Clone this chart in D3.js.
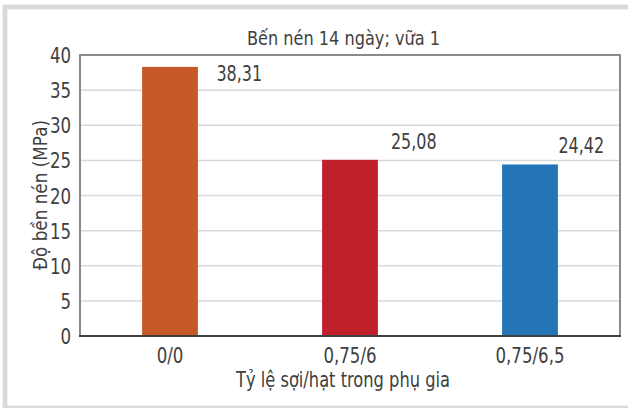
<!DOCTYPE html>
<html>
<head>
<meta charset="utf-8">
<script src="https://cdn.jsdelivr.net/npm/d3@7/dist/d3.min.js"></script>
<style>
  html, body { margin: 0; padding: 0; background: #fff; }
  svg { display: block; }
  text { font-family: "DejaVu Sans", sans-serif; fill: #404040; }
</style>
</head>
<body>
<script>
// Compressive strength at 14 days, mortar mix 1
const categories = ["0/0", "0,75/6", "0,75/6,5"];
const strengths = [38.31, 25.08, 24.42];
const valueLabels = ["38,31", "25,08", "24,42"];
const barColors = ["#c55a28", "#c0202a", "#2474b8"];
const yTicks = [0, 5, 10, 15, 20, 25, 30, 35, 40];
const chartTitle = "Bến nén 14 ngày; vữa 1";
const xTitle = "Tỷ lệ sợi/hạt trong phụ gia";
const yTitle = "Độ bền nén (MPa)";

const W = 628, H = 408;
const plot = { left: 80, right: 620, top: 55, bottom: 336 };

// squeeze text horizontally to mimic a condensed face
function condense(sel, s) {
  sel.each(function () {
    const n = this.getComputedTextLength();
    d3.select(this).attr("textLength", n * s).attr("lengthAdjust", "spacingAndGlyphs");
  });
}
function fitWidth(sel, w) {
  sel.attr("textLength", w).attr("lengthAdjust", "spacingAndGlyphs");
}

const svg = d3.select("body").append("svg").attr("width", W).attr("height", H);

// outer frame
svg.append("rect")
  .attr("x", 5).attr("y", 7).attr("width", 660).attr("height", 401)
  .attr("fill", "none").attr("stroke", "#d9d9d9").attr("stroke-width", 4.7);

const x = d3.scaleBand().domain(categories).range([plot.left, plot.right]).paddingInner(0.69).paddingOuter(0.345);
const y = d3.scaleLinear().domain([0, 40]).range([plot.bottom, plot.top]);

// gridlines
svg.append("g").selectAll("line").data(yTicks.filter(t => t > 0 && t < 40)).join("line")
  .attr("x1", plot.left).attr("x2", plot.right)
  .attr("y1", d => y(d)).attr("y2", d => y(d))
  .attr("stroke", "#d9d9d9").attr("stroke-width", 1.5);

// bars
svg.append("g").selectAll("rect").data(strengths).join("rect")
  .attr("x", (d, i) => x(categories[i]))
  .attr("width", x.bandwidth())
  .attr("y", d => y(d))
  .attr("height", d => y(0) - y(d))
  .attr("fill", (d, i) => barColors[i]);

// plot frame (top, left, right)
svg.append("path")
  .attr("d", `M${plot.left},${plot.bottom} V${plot.top} H${plot.right} V${plot.bottom}`)
  .attr("fill", "none").attr("stroke", "#8a8a8a").attr("stroke-width", 2);

// y axis labels
const yAxis = svg.append("g").attr("transform", `translate(${plot.left},0)`)
  .attr("font-family", null).attr("font-size", null)
  .call(d3.axisLeft(y).tickValues(yTicks).tickSize(0).tickPadding(9));
yAxis.attr("font-family", null);
yAxis.select(".domain").remove();
yAxis.selectAll("text").attr("font-size", 21).attr("fill", "#404040").attr("dy", "0.36em");
condense(yAxis.selectAll("text"), 0.79);

// x axis
const xAxis = svg.append("g").attr("transform", `translate(0,${plot.bottom})`)
  .call(d3.axisBottom(x).tickSize(0).tickPadding(12));
xAxis.attr("font-family", null);
xAxis.select(".domain").attr("stroke", "#404040").attr("stroke-width", 2)
  .attr("d", `M${plot.left - 1},0 H${plot.right + 1}`);
xAxis.selectAll("text").attr("font-size", 21).attr("fill", "#404040");
condense(xAxis.selectAll("text"), 0.79);

// value labels, offset from each bar's top-right corner
const labelOffset = [[18.5, 13.8], [13, -11], [0.5, -11.2]];
const vLabels = svg.append("g").selectAll("text").data(strengths).join("text")
  .attr("x", (d, i) => x(categories[i]) + x.bandwidth() + labelOffset[i][0])
  .attr("y", (d, i) => y(d) + labelOffset[i][1])
  .attr("font-size", 21)
  .text((d, i) => valueLabels[i]);
condense(vLabels, 0.76);

// titles
fitWidth(svg.append("text").attr("x", 343.5).attr("y", 45).attr("text-anchor", "middle")
  .attr("font-size", 20).text(chartTitle), 193);
fitWidth(svg.append("text").attr("x", 343).attr("y", 386.7).attr("text-anchor", "middle")
  .attr("font-size", 21).text(xTitle), 214);
fitWidth(svg.append("text").attr("transform", "translate(47.3,195) rotate(-90)")
  .attr("text-anchor", "middle").attr("font-size", 19).text(yTitle), 150);
</script>
</body>
</html>
